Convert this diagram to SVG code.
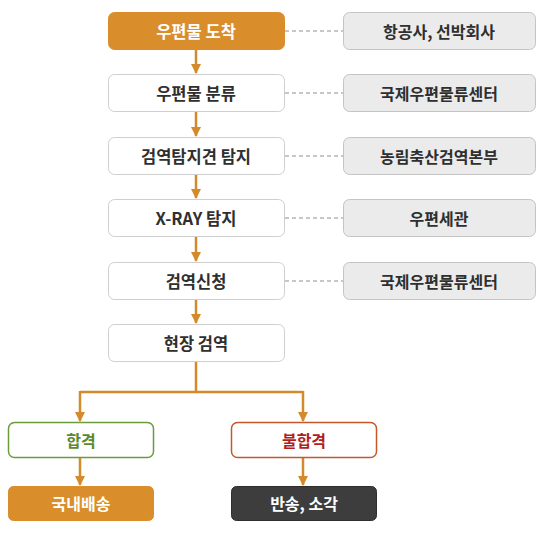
<svg xmlns="http://www.w3.org/2000/svg" width="557" height="540" viewBox="0 0 557 540">
<style>
text{font-family:"Noto Sans CJK KR","Noto Sans",sans-serif;font-weight:bold;font-size:16px;text-anchor:middle;dominant-baseline:central}
.m{font-size:16.5px}
.w{fill:#fff;stroke:#cfcfcf;stroke-width:1}
.g{fill:#ebebeb;stroke:#c4c4c4;stroke-width:1}
.o{fill:#d98e2b;stroke:#d98e2b}
.t{fill:#2f2f2f}
.tw{fill:#fff}
.ln{stroke:#d48a2a;stroke-width:2.5;fill:none}
.ds{stroke:#8f8f8f;stroke-width:1.2;stroke-dasharray:4,3;fill:none}
</style>
<defs>
<marker id="ah" viewBox="0 0 10 10" refX="9" refY="5" markerWidth="4" markerHeight="4" orient="auto" markerUnits="strokeWidth">
<path d="M0,0L10,5L0,10z" fill="#d48a2a"/>
</marker>
</defs>
<rect width="557" height="540" fill="#fff"/>
<g id="connectors">
<line class="ln" x1="196" y1="50" x2="196" y2="73" marker-end="url(#ah)"/>
<line class="ln" x1="196" y1="112" x2="196" y2="136" marker-end="url(#ah)"/>
<line class="ln" x1="196" y1="175" x2="196" y2="198" marker-end="url(#ah)"/>
<line class="ln" x1="196" y1="237" x2="196" y2="261" marker-end="url(#ah)"/>
<line class="ln" x1="196" y1="300" x2="196" y2="323" marker-end="url(#ah)"/>
<polyline class="ln" points="196,362 196,392"/>
<polyline class="ln" points="80,392 303,392"/>
<line class="ln" x1="80" y1="391" x2="80" y2="421" marker-end="url(#ah)"/>
<line class="ln" x1="303" y1="391" x2="303" y2="421" marker-end="url(#ah)"/>
<line class="ln" x1="80" y1="458" x2="80" y2="485" marker-end="url(#ah)"/>
<line class="ln" x1="303" y1="458" x2="303" y2="485" marker-end="url(#ah)"/>
<line class="ds" x1="285" y1="31" x2="343" y2="31"/>
<line class="ds" x1="285" y1="93" x2="343" y2="93"/>
<line class="ds" x1="285" y1="156" x2="343" y2="156"/>
<line class="ds" x1="285" y1="218" x2="343" y2="218"/>
<line class="ds" x1="285" y1="281" x2="343" y2="281"/>
</g>
<g id="n1"><rect class="o" x="108.5" y="12.5" width="176" height="37" rx="6"/><text class="tw m" x="196" y="31">우편물 도착</text></g>
<g id="n2"><rect class="w" x="108.5" y="74.5" width="176" height="37" rx="6"/><text class="t m" x="196" y="93">우편물 분류</text></g>
<g id="n3"><rect class="w" x="108.5" y="137.5" width="176" height="37" rx="6"/><text class="t m" x="196" y="156">검역탐지견 탐지</text></g>
<g id="n4"><rect class="w" x="108.5" y="199.5" width="176" height="37" rx="6"/><text class="t m" x="196" y="218">X-RAY 탐지</text></g>
<g id="n5"><rect class="w" x="108.5" y="262.5" width="176" height="37" rx="6"/><text class="t m" x="196" y="281">검역신청</text></g>
<g id="n6"><rect class="w" x="108.5" y="324.5" width="176" height="37" rx="6"/><text class="t m" x="196" y="343">현장 검역</text></g>
<g id="r1"><rect class="g" x="343.5" y="12.5" width="192" height="37" rx="6"/><text class="t" x="439" y="31">항공사, 선박회사</text></g>
<g id="r2"><rect class="g" x="343.5" y="74.5" width="192" height="37" rx="6"/><text class="t" x="439" y="93">국제우편물류센터</text></g>
<g id="r3"><rect class="g" x="343.5" y="137.5" width="192" height="37" rx="6"/><text class="t" x="439" y="156">농림축산검역본부</text></g>
<g id="r4"><rect class="g" x="343.5" y="199.5" width="192" height="37" rx="6"/><text class="t" x="439" y="218">우편세관</text></g>
<g id="r5"><rect class="g" x="343.5" y="262.5" width="192" height="37" rx="6"/><text class="t" x="439" y="281">국제우편물류센터</text></g>
<g id="pass"><rect x="8.5" y="422.5" width="145" height="35" rx="6" fill="#fff" stroke="#6d9a3c" stroke-width="1.5"/><text x="81" y="440" fill="#5b8a2a">합격</text></g>
<g id="fail"><rect x="231.5" y="422.5" width="145" height="35" rx="6" fill="#fff" stroke="#c4582c" stroke-width="1.5"/><text x="304" y="440" fill="#b01e1e">불합격</text></g>
<g id="domestic"><rect x="8.5" y="486.5" width="145" height="34" rx="5" fill="#d98e2b" stroke="#d98e2b"/><text class="tw" x="81" y="503">국내배송</text></g>
<g id="return"><rect x="231.5" y="486.5" width="145" height="34" rx="5" fill="#3d3d3d" stroke="#2e2e2e"/><text class="tw" x="304" y="503">반송, 소각</text></g>
</svg>
